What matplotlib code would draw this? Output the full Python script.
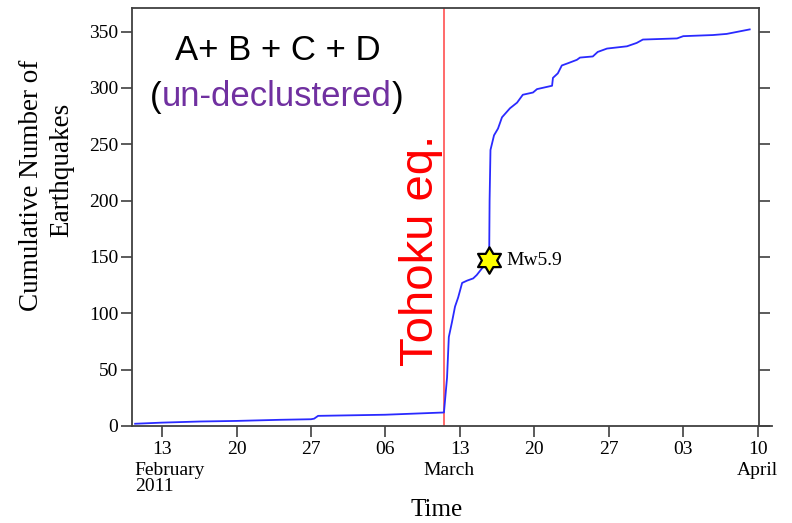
import matplotlib
matplotlib.use("Agg")
import matplotlib.pyplot as plt
import pandas as pd
from matplotlib.path import Path
import numpy as np

# ---- data ----
dates = pd.to_datetime([
    "2011-02-10 11:00", "2011-02-13 00:00", "2011-02-16 14:00", "2011-02-19 23:00",
    "2011-02-24 02:00", "2011-02-27 00:00", "2011-02-27 07:00", "2011-02-27 16:00",
    "2011-03-05 23:00", "2011-03-11 12:00", "2011-03-11 19:00", "2011-03-11 23:00",
    "2011-03-12 06:00", "2011-03-12 13:00", "2011-03-12 20:00", "2011-03-13 05:00",
    "2011-03-13 16:00", "2011-03-14 06:00", "2011-03-14 14:00", "2011-03-15 02:00",
    "2011-03-15 13:00", "2011-03-15 18:00", "2011-03-15 19:00", "2011-03-15 21:00",
    "2011-03-16 05:00", "2011-03-16 14:00", "2011-03-16 23:00", "2011-03-17 17:00",
    "2011-03-18 09:00", "2011-03-18 22:00", "2011-03-19 21:00", "2011-03-20 06:00",
    "2011-03-21 16:00", "2011-03-21 18:00", "2011-03-22 05:00", "2011-03-22 14:00",
    "2011-03-23 04:00", "2011-03-24 00:00", "2011-03-24 07:00", "2011-03-25 12:00",
    "2011-03-25 23:00", "2011-03-26 20:00", "2011-03-28 17:00", "2011-03-29 15:00",
    "2011-03-30 05:00", "2011-04-02 10:00", "2011-04-03 00:00", "2011-04-05 19:00",
    "2011-04-07 02:00", "2011-04-09 06:00",
])
counts = [
    2, 3, 4, 4.5,
    5.5, 6, 6.5, 9,
    10, 12, 43, 79,
    92, 106, 114, 127,
    129, 131, 134, 140,
    146, 147, 200, 245,
    258, 264, 274, 282,
    287, 294, 296, 299,
    302, 309, 313, 320,
    322, 325, 327, 328,
    332, 335, 337, 340,
    343, 344, 346, 347,
    348, 352,
]
tohoku_time = pd.Timestamp("2011-03-11 12:00")
mw59_time = pd.Timestamp("2011-03-15 18:00")
mw59_count = 147
xlim = (pd.Timestamp("2011-02-10 04:00"), pd.Timestamp("2011-04-10 03:00"))
ylim = (0, 371)
tick_dates = pd.to_datetime(["2011-02-13", "2011-02-20", "2011-02-27", "2011-03-06",
                             "2011-03-13", "2011-03-20", "2011-03-27", "2011-04-03",
                             "2011-04-10"])
tick_labels = ["13", "20", "27", "06", "13", "20", "27", "03", "10"]
yticks = [0, 50, 100, 150, 200, 250, 300, 350]

serif = ["Liberation Serif", "DejaVu Serif"]
sans = ["Liberation Sans", "DejaVu Sans"]
W, H = 792, 523

fig = plt.figure(figsize=(7.92, 5.23), dpi=100)
ax = fig.add_axes([132 / W, 1 - 426 / H, (759 - 132) / W, (426 - 8) / H])

ax.plot(dates, counts, color="#2a2aff", lw=1.3, zorder=3)
ax.axvline(tohoku_time, color="#ff5050", lw=1.2, zorder=2)

# six-pointed star marker
ang = np.deg2rad(np.arange(12) * 30 + 90)
rad = np.where(np.arange(12) % 2 == 0, 1.0, 0.58)
verts = np.column_stack([rad * np.cos(ang), rad * np.sin(ang)])
verts = np.vstack([verts, verts[:1]])
star = Path(verts, [Path.MOVETO] + [Path.LINETO] * 11 + [Path.CLOSEPOLY])
ax.plot([mw59_time], [mw59_count], marker=star, markersize=19,
        markerfacecolor="#ffff00", markeredgecolor="black", markeredgewidth=1.6,
        linestyle="none", zorder=5)
ax.text(mw59_time + pd.Timedelta(hours=40), mw59_count, "Mw5.9", family=serif,
        fontsize=14, va="center", ha="left")

ax.set_xlim(*xlim)
ax.set_ylim(*ylim)
ax.set_xticks(tick_dates)
ax.set_xticklabels(tick_labels, family=serif, fontsize=14)
ax.set_yticks(yticks)
ax.set_yticklabels([str(v) for v in yticks], family=serif, fontsize=14)
ax.tick_params(axis="both", direction="out", length=8, width=1.2, color="#404040")
ax.tick_params(axis="y", right=True, left=True, labelright=False, pad=2)
ax.tick_params(axis="x", pad=3)
for s in ax.spines.values():
    s.set_color("#404040")
    s.set_linewidth(1.3)
ax.plot([1, 1.02], [0, 0], transform=ax.transAxes, clip_on=False,
        color="#404040", lw=1.3)

# month labels
trans = ax.get_xaxis_transform()
ax.text(xlim[0] + pd.Timedelta(hours=6), -0.085, "February\n2011", transform=trans,
        family=serif, fontsize=14, ha="left", va="top", linespacing=0.95)
ax.text(pd.Timestamp("2011-03-12 00:00"), -0.085, "March", transform=trans,
        family=serif, fontsize=14, ha="center", va="top")
ax.text(pd.Timestamp("2011-04-10 00:00"), -0.085, "April", transform=trans,
        family=serif, fontsize=14, ha="center", va="top")

fig.text(437 / W, 1 - 510 / H, "Time", family=serif, fontsize=18,
         ha="center", va="center")
fig.text(32 / W, 1 - 185 / H, "Cumulative Number of", family=serif,
         fontsize=19.5, rotation=90, ha="center", va="center")
fig.text(62 / W, 1 - 170 / H, "Earthquakes", family=serif,
         fontsize=19.5, rotation=90, ha="center", va="center")

fig.text(278 / W, 1 - 50 / H, "A+ B + C + D", family=sans, fontsize=25,
         ha="center", va="center")

# "(un-declustered)" with coloured middle part
renderer = fig.canvas.get_renderer()
parts = [("(", "black"), ("un-declustered", "#7030a0"), (")", "black")]
xpos = 150 / W
for txt, col in parts:
    t = fig.text(xpos, 1 - 97 / H, txt, family=sans, fontsize=25, color=col,
                 ha="left", va="center")
    bb = t.get_window_extent(renderer=renderer)
    xpos = bb.x1 / W

fig.text(421 / W, 1 - 250 / H, "Tohoku eq.", family=sans, fontsize=34,
         color="#ff0000", rotation=90, ha="center", va="center")

fig.savefig("out.png", dpi=100)
